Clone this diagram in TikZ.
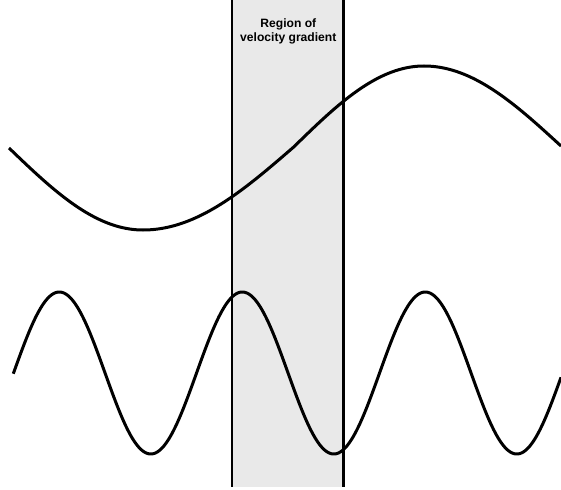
\documentclass[tikz,border=0pt]{standalone}
\usepackage{fontspec}
\setmainfont{Liberation Sans}
\definecolor{bandgray}{HTML}{E9E9E9}
\begin{document}
\begin{tikzpicture}[x=1pt,y=-1pt,
  wave/.style={line width=3pt, black, line join=round},
  edge/.style={line width=2.6pt, black},
  band/.style={fill=bandgray},
  lbl/.style={font=\bfseries\fontsize{12.1}{14.6}\selectfont, align=center, inner sep=0pt}]
\useasboundingbox (0,0) rectangle (561,489);
% band
\coordinate (tl) at (232,-3);
\coordinate (bl) at (232,487);
\coordinate (tr) at (343.7,-3);
\coordinate (br) at (343.7,487);
\fill[band] (tl) rectangle (br);
\draw[edge] (tl) -- (bl);
\draw[edge] (tr) -- (br);
% label
\node[lbl] (label) at (288.3,31.5) {Region of\\velocity gradient};
% long wave
\draw[wave]
  plot[domain=9:143, samples=60] (\x, {148 + 82*sin((90/134)*(\x-9))})
  -- plot[domain=143:293.7, samples=70] (\x, {147 + 83*cos((90/150.7)*(\x-143))})
  -- plot[domain=293.7:424, samples=60] (\x, {147 - 81*sin((90/130.3)*(\x-293.7))})
  -- plot[domain=424:561, samples=60] (\x, {146 - 80*cos((90/137)*(\x-424))});
% short wave
\draw[wave] plot[domain=13.3:561, samples=400] (\x, {373 - 81*cos((360/183)*(\x-59.3))});
\end{tikzpicture}
\end{document}
